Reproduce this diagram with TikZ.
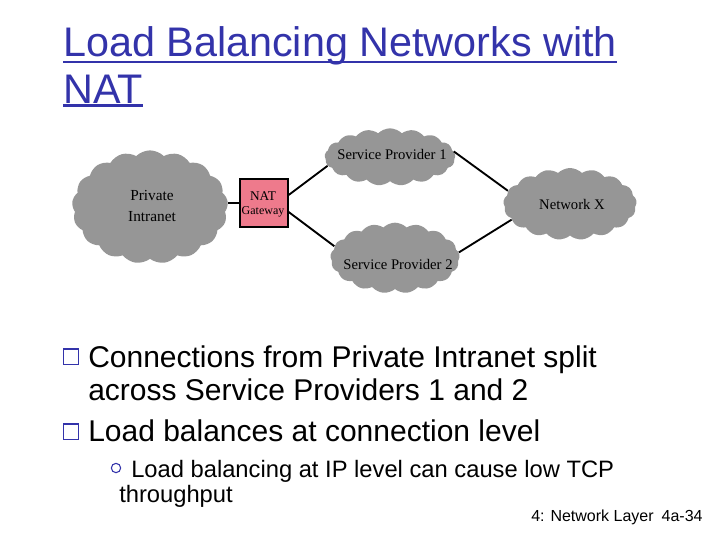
\documentclass[tikz,border=0pt]{standalone}
\usepackage{fontspec}
\setmainfont{Liberation Serif}
\newfontfamily\slidefont{Liberation Sans}
\usepackage{xcolor}
\usetikzlibrary{shapes.symbols}

\definecolor{titleblue}{RGB}{51,51,170}
\definecolor{cloudgray}{RGB}{150,150,150}
\definecolor{natpink}{RGB}{238,122,140}

\tikzset{
  netcloud/.style={cloud, cloud puffs=17, cloud puff arc=90, fill=cloudgray, draw=none, inner sep=0pt},
  netlabel/.style={font=\fontsize{11}{12}\selectfont, align=center, inner sep=0.75pt},
  link/.style={line width=1.4pt},
  titletext/.style={anchor=base west, inner sep=0pt, text=titleblue, font=\slidefont\fontsize{31}{36}\selectfont},
  bodytext/.style={anchor=base west, inner sep=0pt, font=\slidefont\fontsize{22.5}{25}\selectfont},
  subtext/.style={anchor=base west, inner sep=0pt, font=\slidefont\fontsize{17.8}{20}\selectfont},
  boxbullet/.style={draw=titleblue, line width=0.8pt, minimum size=11pt, inner sep=0pt}
}

\begin{document}
\begin{tikzpicture}[x=0.75pt,y=0.75pt,yscale=-1,xscale=1]
\useasboundingbox (0,0) rectangle (720,540);

% Title
\node[titletext] (title1) at (63,56) {Load Balancing Networks with};
\node[titletext] (title2) at (63,103) {NAT};
\draw[titleblue, line width=2.2pt] ([yshift=4.5pt]title1.base west) -- ([yshift=4.5pt]title1.base east);
\draw[titleblue, line width=2.2pt] ([yshift=2pt]title2.base west) -- ([yshift=2pt]title2.base east);

% Clouds
\node[netcloud, minimum width=117pt, minimum height=85pt] (intranet) at (150,207) {};
\node[netcloud, minimum width=98pt, minimum height=43pt] (sp1) at (390,157) {};
\node[netcloud, minimum width=97pt, minimum height=53pt] (sp2) at (395,258) {};
\node[netcloud, minimum width=100pt, minimum height=54pt] (netx) at (570,204) {};

% NAT box
\node[draw=black, line width=1pt, fill=natpink, minimum width=36pt, minimum height=36pt, inner sep=0pt] (nat) at (264,203) {};

% Links
\draw[link] (nat.west) -- (nat.west -| intranet.east);
\draw[link] (nat.18) -- (sp1.188);
\draw[link] (nat.-20) -- (sp2.169);
\draw[link] (sp1.5) -- (netx.168);
\draw[link] (sp2.5) -- (netx.195);

% Labels
\node[netlabel, font=\fontsize{11.5}{12}\selectfont] (lintranet) at (152,206) {Private\\[4pt]Intranet};
\node[netlabel, font=\fontsize{10}{10.5}\selectfont] (lnat) at (263,196) {NAT};
\node[netlabel, font=\fontsize{9}{10}\selectfont] (lgate) at (263,212) {Gateway};
\node[netlabel] (lsp1) at (392,154) {Service Provider 1};
\node[netlabel] (lsp2) at (398,264) {Service Provider 2};
\node[netlabel] (lnetx) at (572,204) {Network X};

% Bullets
\node[boxbullet] (b1) at (71,357) {};
\draw[titleblue, line width=2pt] (b1.north west) -- (b1.north east);
\node[boxbullet] (b2) at (71,432) {};
\draw[titleblue, line width=2pt] (b2.north west) -- (b2.north east);
\node[draw=titleblue, circle, line width=0.8pt, minimum size=7pt, inner sep=0pt] (b3) at (116,468) {};

% Body text
\node[bodytext] (t1) at (88,367) {Connections from Private Intranet split};
\node[bodytext] (t2) at (88,400) {across Service Providers 1 and 2};
\node[bodytext] (t3) at (88,441) {Load balances at connection level};
\node[subtext] (t4) at (131,477) {Load balancing at IP level can cause low TCP};
\node[subtext] (t5) at (119,502) {throughput};

% Footer
\node[anchor=base west, inner sep=0pt, font=\slidefont\fontsize{12}{12}\selectfont] (footer) at (531,521) {4: Network Layer\hspace{6pt}4a-34};

\end{tikzpicture}
\end{document}
